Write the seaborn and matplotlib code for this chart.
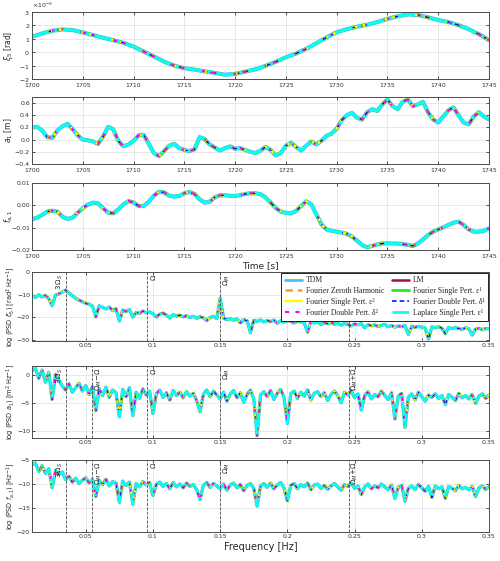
import numpy as np
import matplotlib
matplotlib.use("Agg")
import matplotlib.pyplot as plt
import seaborn as sns
from matplotlib.lines import Line2D
from matplotlib.ticker import ScalarFormatter
import matplotlib.transforms as mtransforms

sns.set_style("whitegrid")
plt.rcParams['font.family'] = ['DejaVu Sans']
plt.rcParams['mathtext.fontset'] = 'dejavusans'

# ---- time domain (1700..1745 s) ----
time_xi = np.arange(1700, 1746, 1.0)
xi5 = [1.16, 1.40, 1.60, 1.70, 1.65, 1.48, 1.28, 1.08, 0.90, 0.70,
       0.42, 0.05, -0.32, -0.70, -1.00, -1.20, -1.30, -1.43, -1.55, -1.68,
       -1.62, -1.45, -1.28, -1.02, -0.72, -0.38, -0.10, 0.25, 0.67, 1.10,
       1.49, 1.72, 1.90, 2.05, 2.25, 2.48, 2.68, 2.82, 2.78, 2.60,
       2.40, 2.25, 2.02, 1.72, 1.35, 0.90]
xi5 = [v * 1e-3 for v in xi5]

time = np.arange(1700, 1745.01, 0.5)
a1 = [0.20, 0.21, 0.15, 0.04, 0.03, 0.15, 0.22, 0.26, 0.17, 0.07,
      0.00, -0.01, -0.03, -0.07, 0.05, 0.21, 0.17, -0.02, -0.11, -0.08,
      -0.02, 0.07, 0.08, -0.07, -0.22, -0.27, -0.19, -0.10, -0.07, -0.14,
      -0.17, -0.19, -0.16, 0.04, 0.01, -0.08, -0.13, -0.18, -0.14, -0.11,
      -0.15, -0.14, -0.17,
      -0.20, -0.22, -0.18, -0.12, -0.17, -0.26, -0.22, -0.10, -0.05, -0.12, -0.18,
      -0.10, -0.03, -0.08, -0.02, 0.06, 0.10, 0.18, 0.32, 0.40, 0.44,
      0.36, 0.33, 0.45, 0.50, 0.47, 0.58, 0.66, 0.55, 0.50, 0.62,
      0.66, 0.55, 0.58, 0.62, 0.45, 0.33, 0.28, 0.38, 0.48, 0.53,
      0.40, 0.28, 0.25, 0.38, 0.45, 0.38, 0.33]
fa1 = [-0.0063, -0.0055, -0.0043, -0.0028, -0.0024, -0.0028, -0.0051, -0.0061, -0.0055, -0.0033,
       -0.0013, 0.0003, 0.0012, 0.0009, -0.0013, -0.0033, -0.0036, -0.0018, 0.0004, 0.0019,
       0.0013, -0.0003, -0.0003, 0.0016, 0.0043, 0.0060, 0.0058, 0.0043, 0.0039, 0.0042,
       0.0054, 0.0060, 0.0051, 0.0027, 0.0012, 0.0016, 0.0036, 0.0045, 0.0045, 0.0043,
       0.0042, 0.0045, 0.0051,
       0.0054, 0.0054, 0.0050, 0.0035, 0.0012, -0.0012, -0.0028, -0.0034, -0.0036, -0.0025,
       -0.0003, 0.0018, 0.0005, -0.0040, -0.0085, -0.0108, -0.0114,
       -0.0118, -0.0122, -0.0128, -0.0140, -0.0158, -0.0178, -0.0188, -0.0182, -0.0175, -0.0171,
       -0.0170, -0.0171, -0.0171, -0.0174, -0.0177, -0.0182, -0.0171, -0.0153, -0.0133, -0.0118,
       -0.0108, -0.0099, -0.0088, -0.0078, -0.0073, -0.0088, -0.0108, -0.0118, -0.0118, -0.0114,
       -0.0103]

# ---- spectra (0.01..0.35 Hz) ----
freq = np.round(np.arange(0.01, 0.35001, 0.0025), 4)
psd_xi5 = [-10.4, -11.2, -10.1, -11.0, -10.3, -11.8, -14.8, -10.2, -9.6, -8.9,
           -8.0, -9.3, -10.4, -11.6, -12.4, -13.1, -13.8, -14.2, -15.0, -19.8,
           -14.9, -15.6, -16.3, -15.4, -17.0, -16.2, -21.6, -16.8, -17.4, -16.6,
           -19.9, -17.8, -18.3, -17.2, -18.0, -17.6, -18.4, -19.8, -18.6, -18.1,
           -19.0, -20.3, -18.8, -19.4, -19.0, -19.8, -19.3, -20.1, -19.5, -20.4,
           -19.7, -20.2, -21.4, -20.0, -19.6, -20.5, -11.5, -20.3, -21.0, -20.6,
           -21.2, -20.7, -22.4, -21.0, -21.5, -26.8, -21.3, -21.8, -21.1, -22.0,
           -21.4, -21.9, -21.2, -22.6, -21.5, -22.1, -21.3, -21.8, -22.5, -21.6,
           -22.0, -22.4, -26.5, -21.9, -22.5, -22.1, -23.2, -22.3, -22.8, -22.2,
           -23.0, -22.6, -23.4, -22.7, -23.1, -23.8, -22.9, -23.3, -22.8, -24.6,
           -23.2, -23.7, -23.3, -24.0, -23.5, -23.1, -24.2, -23.6, -24.3, -23.8,
           -24.1, -23.6, -27.5, -24.0, -24.4, -23.9, -24.3, -24.7, -29.5, -24.2,
           -24.6, -24.1, -24.8, -27.2, -24.4, -25.0, -24.5, -24.9, -25.3, -24.6,
           -25.0, -27.8, -25.2, -24.8, -25.4, -24.9, -25.1]
psd_a1 = [0.8, 1.3, -0.5, 1.0, -1.2, 0.6, -4.3, 0.2, -0.8, -1.9,
          -2.6, -1.5, -3.0, -2.2, -1.4, -2.8, -1.8, -3.4, -2.0, -6.3,
          -2.4, -3.6, -2.1, -3.9, -2.6, -3.1, -7.4, -2.5, -3.8, -2.2,
          -7.2, -3.0, -4.1, -2.4, -3.5, -2.8, -6.8, -3.3, -2.6, -3.9,
          -3.1, -4.4, -2.7, -3.6, -3.0, -4.0, -2.9, -3.7, -3.2, -4.5,
          -6.5, -3.4, -2.6, -3.8, -2.8, -3.5, -4.2, -3.0, -4.6, -3.3,
          -2.7, -4.0, -3.1, -4.8, -3.4, -2.6, -4.2, -10.8, -3.5, -2.9,
          -3.8, -2.7, -4.3, -3.2, -2.5, -3.9, -8.6, -3.3, -2.8, -4.1,
          -3.0, -3.7, -2.6, -4.4, -3.2, -2.9, -3.8, -3.1, -4.5, -3.4,
          -2.8, -3.6, -4.9, -3.0, -3.5, -2.7, -4.0, -3.3, -6.2, -3.6,
          -2.9, -4.2, -3.4, -3.8, -2.8, -3.6, -4.3, -3.1, -7.8, -3.7,
          -3.2, -9.3, -3.9, -3.3, -4.4, -3.0, -3.8, -4.6, -3.5, -3.9,
          -3.3, -4.1, -3.6, -5.2, -3.4, -3.9, -4.5, -3.2, -4.0, -3.6,
          -4.2, -3.4, -5.0, -3.7, -3.3, -4.1, -3.5]
psd_fa1 = [-6.0, -5.6, -7.4, -6.2, -7.8, -6.8, -10.8, -7.2, -8.0, -7.5,
           -9.1, -8.4, -9.6, -8.8, -9.9, -9.2, -8.7, -9.8, -9.0, -12.6,
           -9.3, -10.1, -9.0, -10.4, -9.5, -9.8, -13.8, -9.4, -10.3, -9.6,
           -14.2, -9.9, -10.6, -9.5, -10.2, -9.7, -12.4, -10.1, -9.6, -10.5,
           -9.9, -11.0, -9.7, -10.6, -10.0, -10.8, -9.8, -10.5, -10.1, -11.2,
           -13.2, -10.3, -9.7, -10.7, -9.9, -10.4, -11.0, -10.0, -11.3, -10.2,
           -9.8, -10.8, -10.1, -11.4, -10.3, -9.9, -10.9, -14.6, -10.4, -9.9,
           -10.7, -9.8, -11.0, -10.2, -9.7, -10.8, -13.5, -10.3, -9.9, -11.0,
           -10.1, -10.6, -9.8, -11.2, -10.2, -10.0, -10.9, -10.3, -11.1, -10.4,
           -9.9, -10.6, -11.3, -10.1, -10.5, -9.8, -10.9, -10.4, -12.2, -10.6,
           -10.0, -11.0, -10.4, -10.8, -10.0, -10.6, -11.2, -10.2, -13.0, -10.7,
           -10.3, -13.6, -10.9, -10.4, -11.2, -10.1, -10.8, -11.5, -10.5, -12.8,
           -10.4, -11.0, -10.6, -13.0, -10.5, -10.9, -11.4, -10.3, -11.0, -10.7,
           -11.2, -10.5, -12.6, -10.8, -10.4, -11.1, -10.6]

# marked frequencies
f_lines = [0.035, 0.0545, 0.0955, 0.15, 0.2455]
f_labels = [r"$3\,\Omega_S$", r"$\Omega_M\!-\!\Omega$", r"$\Omega$", r"$\Omega_M$", r"$\Omega_M\!+\!\Omega$"]

# the eight models
names = ["TDM", "LM", "Fourier Zeroth Harmonic", "Fourier Single Pert. ε¹",
         "Fourier Single Pert. ε²", "Fourier Double Pert. δ¹",
         "Fourier Double Pert. δ²", "Laplace Single Pert. ε¹"]
colors = ["#4DBEEE", "#A2142F", "#EDA030", "#22EE22", "#FFFF00", "#0000FF", "#FF00FF", "#00FFFF"]
styles = ["-", "-", (0, (3, 2)), "-", "-", (0, (3, 2)), (0, (2, 3)), (0, (6, 2, 1, 2))]
widths = [3.0, 1.8, 1.8, 2.1, 1.7, 1.1, 1.5, 2.1]

fig = plt.figure(figsize=(5.0, 5.61), dpi=100)
L, W = 0.064, 0.914
rects = [[L, 0.8592, W, 0.1194], [L, 0.7077, W, 0.1194], [L, 0.5544, W, 0.1194],
         [L, 0.3922, W, 0.1230], [L, 0.2193, W, 0.1283], [L, 0.0517, W, 0.1283]]
axes = [fig.add_axes(r) for r in rects]

def draw_models(ax, x, y, scale=1.0):
    for c, ls, lw in zip(colors, styles, widths):
        sns.lineplot(x=x, y=y, ax=ax, color=c, linestyle=ls, linewidth=lw * scale,
                     errorbar=None, legend=False)

def style_ax(ax, lx, xpad):
    ax.tick_params(direction="in", top=True, right=True, bottom=True, left=True,
                   length=2.5, width=0.6, labelsize=4.5, pad=1.5, colors="0.2")
    ax.tick_params(axis="x", pad=xpad)
    for s in ax.spines.values():
        s.set_color("0.3")
        s.set_linewidth(0.7)
    ax.grid(True, color="0.88", lw=0.5)
    ax.set_axisbelow(True)
    ax.yaxis.set_label_coords(lx, 0.5)

# time panels
draw_models(axes[0], time_xi, xi5)
draw_models(axes[1], time, a1)
draw_models(axes[2], time, fa1)
for ax in axes[:3]:
    ax.set_xlim(1700, 1745)
    ax.set_xticks(np.arange(1700, 1746, 5))
axes[0].set_ylim(-2e-3, 3e-3)
axes[0].set_yticks(np.arange(-2e-3, 3.1e-3, 1e-3))
fmt = ScalarFormatter(useMathText=True)
fmt.set_powerlimits((-2, 2))
axes[0].yaxis.set_major_formatter(fmt)
axes[0].yaxis.get_offset_text().set_fontsize(4.5)
axes[1].set_ylim(-0.4, 0.7)
axes[1].set_yticks([-0.4, -0.2, 0, 0.2, 0.4, 0.6])
axes[2].set_ylim(-0.02, 0.01)
axes[2].set_yticks([-0.02, -0.01, 0, 0.01])
axes[0].set_ylabel(r"$\xi_5$ [rad]", fontsize=5.5)
axes[1].set_ylabel(r"$a_1$ [m]", fontsize=5.5)
axes[2].set_ylabel(r"$f_{a,1}$", fontsize=5.5)
axes[2].set_xlabel("Time [s]", fontsize=6.5, labelpad=2)

# spectra panels
spectra = [psd_xi5, psd_a1, psd_fa1]
ylims = [(-30.4, 0), (-11.2, 1.7), (-20, -5)]
yticks = [[-30, -20, -10, 0], [-10, -5, 0], [-20, -15, -10, -5]]
ylabels = [r"log (PSD $\xi_5$) [rad$^2$ Hz$^{-1}$]",
           r"log (PSD $a_1$) [m$^2$ Hz$^{-1}$]",
           r"log (PSD $f_{a,1}$) [Hz$^{-1}$]"]
line_sets = [[0, 2, 3, 4], [0, 1, 2, 3, 4], [0, 1, 2, 3, 4]]
label_sets = [[0, 2, 3], [0, 1, 2, 3, 4], [0, 1, 2, 3, 4]]
for ax, y, yl, yt, lab, ls_idx, lb_idx in zip(axes[3:], spectra, ylims, yticks,
                                              ylabels, line_sets, label_sets):
    draw_models(ax, freq, y, scale=0.8)
    ax.set_xlim(0.01, 0.35)
    ax.set_xticks([0.05, 0.1, 0.15, 0.2, 0.25, 0.3, 0.35])
    ax.set_xticklabels(["0.05", "0.1", "0.15", "0.2", "0.25", "0.3", "0.35"])
    ax.set_ylim(*yl)
    ax.set_yticks(yt)
    ax.set_ylabel(lab, fontsize=4.8)
    trans = mtransforms.blended_transform_factory(ax.transData, ax.transAxes)
    for i in ls_idx:
        ax.axvline(f_lines[i], color="0.3", ls="--", lw=0.6, zorder=5)
    for i in lb_idx:
        ha = "right" if i == 0 else "left"
        dx = -0.0008 if i == 0 else 0.0012
        ax.text(f_lines[i] + dx, 0.97, f_labels[i], transform=trans, rotation=90,
                ha=ha, va="top", fontsize=5, color="0.15", zorder=6)
axes[5].set_xlabel("Frequency [Hz]", fontsize=7, labelpad=2)

for k, ax in enumerate(axes):
    style_ax(ax, -0.038 if k < 3 else -0.032, 2.6 if k < 3 else 1.5)

# legend (column-major order)
order = [0, 2, 4, 6, 1, 3, 5, 7]
handles = [Line2D([0], [0], color=colors[i], ls=styles[i], lw=min(widths[i], 2.0)) for i in order]
leg = axes[3].legend(handles, [names[i] for i in order], loc="upper right", ncol=2,
                     prop={"family": "Liberation Serif", "size": 5.6},
                     frameon=True, fancybox=False, edgecolor="black", framealpha=1,
                     borderpad=0.45, handlelength=2.2, columnspacing=1.0,
                     labelspacing=0.38, handletextpad=0.5, borderaxespad=0.1)
leg.get_frame().set_linewidth(0.6)
leg.set_zorder(10)

fig.savefig("out.png", dpi=100)
